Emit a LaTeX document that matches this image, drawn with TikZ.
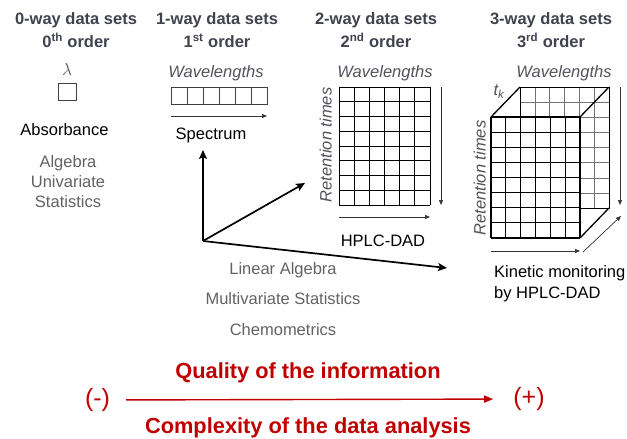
\documentclass[tikz,border=0pt]{standalone}
\usepackage{fontspec}
\setmainfont{Liberation Sans}
\usetikzlibrary{positioning,arrows.meta}

\definecolor{headgray}{RGB}{64,66,78}
\definecolor{txtgray}{RGB}{98,98,98}
\definecolor{lblgray}{RGB}{82,82,92}
\definecolor{darkred}{RGB}{192,0,0}

\tikzset{
	head/.style={font=\fontsize{16.5}{19}\selectfont\bfseries, text=headgray, inner sep=0pt, text height=12pt, text depth=3.5pt},
	txt/.style={font=\fontsize{16.5}{19}\selectfont, inner sep=0pt, text height=12pt, text depth=3pt},
	gtxt/.style={txt, text=txtgray},
	lbl/.style={txt, font=\fontsize{16.5}{19}\selectfont\itshape, text=lblgray},
	redtxt/.style={font=\fontsize{21.8}{24}\selectfont\bfseries, text=darkred, inner sep=0pt},
	sign/.style={font=\fontsize{25}{27}\selectfont, text=darkred, inner sep=0pt},
	axis/.style={line width=1.7pt, -{Stealth[length=9pt,width=8pt,inset=2pt]}},
	small/.style={line width=0.7pt, black!80, -{Triangle[length=5pt,width=4pt]}},
	redarrow/.style={line width=1.4pt, darkred, -{Triangle[length=9pt,width=7pt]}},
	cell/.style={line width=0.8pt, black!75},
	front/.style={line width=1.2pt},
	back/.style={line width=0.5pt, black!55},
	edge/.style={line width=1.3pt}
}

\begin{document}
\begin{tikzpicture}[x=1pt, y=-1pt]
	\useasboundingbox (0,0) rectangle (627,439);

	% headers
	\node[head] (h0) at (76,20) {0-way data sets};
	\node[head, below=7.5pt of h0] (o0) {0\textsuperscript{th} order};
	\node[head] (h1) at (217,20) {1-way data sets};
	\node[head, below=7.5pt of h1] (o1) {1\textsuperscript{st} order};
	\node[head] (h2) at (376,20) {2-way data sets};
	\node[head, below=7.5pt of h2] (o2) {2\textsuperscript{nd} order};
	\node[head] (h3) at (551,20) {3-way data sets};
	\node[head, below=7.5pt of h3] (o3) {3\textsuperscript{rd} order};

	% 0-way
	\node[txt, text=lblgray] (lam) at (67,71) {$\lambda$};
	\draw[cell] (58,83) rectangle (76,100);
	\node[txt] (abs) at (64.5,131) {Absorbance};
	\node[gtxt] (alg) at (68,163) {Algebra};
	\node[gtxt, below=4.5pt of alg] (univ) {Univariate};
	\node[gtxt, below=4.5pt of univ] (stat) {Statistics};

	% 1-way
	\node[lbl] (wl1) at (216,73) {Wavelengths};
	\foreach \i in {0,...,5}
		\draw[cell] (171+16*\i,87) rectangle +(16,17);
	\coordinate (s1a) at (171,116);
	\coordinate (s1b) at (267,116);
	\draw[small] (s1a) -- (s1b);
	\node[txt] (spec) at (211,135) {Spectrum};

	% 2-way
	\node[lbl] (wl2) at (385,73) {Wavelengths};
	\node[lbl, rotate=90] (rt2) at (327,145) {Retention times};
	\begin{scope}[shift={(339,87)}]
		\foreach \i in {0,...,6}
			\draw[cell, black] (\i*91/6,0) -- (\i*91/6,118);
		\foreach \j in {0,...,8}
			\draw[cell, black] (0,\j*118/8) -- (91,\j*118/8);
	\end{scope}
	\coordinate (s2a) at (441,87);
	\coordinate (s2b) at (441,205);
	\draw[small] (s2a) -- (s2b);
	\coordinate (s2c) at (339,217);
	\coordinate (s2d) at (430,217);
	\draw[small] (s2c) -- (s2d);
	\node[txt] (hplc) at (383,242) {HPLC-DAD};

	% 3-way
	\node[lbl] (wl3) at (564,73) {Wavelengths};
	\node[txt, text=lblgray, font=\fontsize{16.5}{19}\selectfont\itshape] (tk) at (499,91) {t\textsubscript{k}};
	\begin{scope}[shift={(520,87)}]
		\foreach \i in {1,...,5}
			\draw[back] (\i*89/6,0) -- (\i*89/6,121);
		\foreach \j in {1,...,7}
			\draw[back] (0,\j*121/8) -- (89,\j*121/8);
		\draw[line width=0.8pt] (0,0) rectangle (89,121);
	\end{scope}
	\fill[white] (491,117) rectangle (580,238);
	\begin{scope}[shift={(491,117)}]
		\foreach \i in {0,...,6}
			\draw[front] (\i*89/6,0) -- (\i*89/6,121);
		\foreach \j in {0,...,8}
			\draw[front] (0,\j*121/8) -- (89,\j*121/8);
	\end{scope}
	\draw[edge] (491,117) -- (520,87);
	\draw[edge] (580,117) -- (609,87);
	\draw[edge] (580,238) -- (609,208);
	\node[lbl, rotate=90] (rt3) at (481,178) {Retention times};
	\coordinate (s3a) at (620,87);
	\coordinate (s3b) at (620,205);
	\draw[small] (s3a) -- (s3b);
	\coordinate (s3c) at (491,251);
	\coordinate (s3d) at (580,251);
	\draw[small] (s3c) -- (s3d);
	\coordinate (s3e) at (583,252);
	\coordinate (s3f) at (621,216);
	\draw[small] (s3e) -- (s3f);
	\node[txt, anchor=north west, align=left, text height=, text depth=, font=\fontsize{16.5}{21}\selectfont] (kin) at (494,265) {Kinetic monitoring\\by HPLC-DAD};

	% axes
	\coordinate (orig) at (203,241);
	\coordinate (ax1) at (203,150);
	\coordinate (ax2) at (305,183);
	\coordinate (ax3) at (447,268);
	\draw[axis] (orig) -- (ax1);
	\draw[axis] (orig) -- (ax2);
	\draw[axis] (orig) -- (ax3);
	\node[gtxt] (lin) at (283,270) {Linear Algebra};
	\node[gtxt, below=15pt of lin] (multi) {Multivariate Statistics};
	\node[gtxt, below=15pt of multi] (chemo) {Chemometrics};

	% bottom scale
	\node[redtxt] (qual) at (308,373) {Quality of the information};
	\node[sign] (minus) at (97.5,400) {(-)};
	\node[sign] (plus) at (529,399) {(+)};
	\draw[redarrow, shorten <=16pt, shorten >=20pt] (minus) -- (plus);
	\node[redtxt] (comp) at (308,428) {Complexity of the data analysis};
\end{tikzpicture}
\end{document}
